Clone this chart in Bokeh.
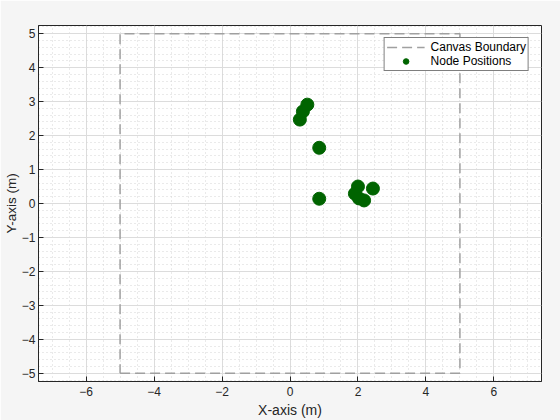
from bokeh.plotting import figure
from bokeh.models import Range1d, SingleIntervalTicker, Legend, LegendItem
from bokeh.embed import file_html
from bokeh.resources import INLINE

# Data
node_x = [0.29, 0.38, 0.51, 0.86, 0.86, 2.00, 1.91, 2.03, 2.18, 2.44]
node_y = [2.47, 2.71, 2.91, 1.64, 0.14, 0.50, 0.29, 0.15, 0.09, 0.44]
boundary_x = [-5, 5, 5, -5, -5]
boundary_y = [-5, -5, 5, 5, -5]
x_limits = [-7.4, 7.4]
y_limits = [-5.24, 5.24]

FONT = "Liberation Sans"
TXT = "#262626"

p = figure(width=560, height=420, output_backend="svg", toolbar_location=None,
           x_range=Range1d(*x_limits), y_range=Range1d(*y_limits),
           min_border_left=38, min_border_right=19, min_border_top=25, min_border_bottom=39)
p.background_fill_color = "white"
p.border_fill_color = "#f5f5f5"
p.outline_line_color = TXT
p.outline_line_width = 1

xt = SingleIntervalTicker(interval=2, num_minor_ticks=4)
yt = SingleIntervalTicker(interval=1, num_minor_ticks=5)
p.xaxis.ticker = xt
p.yaxis.ticker = yt

for ax in (p.xaxis[0], p.yaxis[0]):
    ax.major_tick_in = 5
    ax.major_tick_out = 0
    ax.minor_tick_in = 0
    ax.minor_tick_out = 0
    ax.axis_line_color = TXT
    ax.major_tick_line_color = TXT
    ax.major_label_text_font = FONT
    ax.major_label_text_font_size = "12px"
    ax.major_label_text_color = TXT
    ax.axis_label_text_font = FONT
    ax.axis_label_text_font_size = "14px"
    ax.axis_label_text_font_style = "normal"
    ax.axis_label_text_color = TXT

p.xaxis.major_label_standoff = 5
p.xaxis.axis_label_standoff = 3
p.yaxis.major_label_standoff = 3
p.yaxis.axis_label_standoff = 0
p.yaxis.axis_label_text_font_size = "13.5px"

p.xaxis.axis_label = "X-axis (m)"
p.yaxis.axis_label = "Y-axis (m)"

for g in (p.xgrid[0], p.ygrid[0]):
    g.grid_line_color = "#dcdcdc"
    g.grid_line_width = 1
    g.minor_grid_line_color = "#d4d4d4"
    g.minor_grid_line_dash = "1 3"
    g.minor_grid_line_width = 1

r_bound = p.line(boundary_x, boundary_y, line_color="#a0a0a0", line_width=1.5, line_dash="10 5")
r_nodes = p.scatter(node_x, node_y, size=13, fill_color="#006400", line_color="#006400")

legend = Legend(items=[LegendItem(label="Canvas Boundary", renderers=[r_bound]),
                       LegendItem(label="Node Positions", renderers=[r_nodes])],
                location="top_right", margin=12, padding=2, spacing=0,
                label_text_font=FONT, label_text_font_size="12px", label_text_color="black",
                label_height=14, glyph_height=14, glyph_width=38, label_standoff=6,
                border_line_color="black", border_line_width=1,
                background_fill_color="white", background_fill_alpha=1)
p.add_layout(legend)

open("out.html", "w").write(file_html(p, INLINE))
